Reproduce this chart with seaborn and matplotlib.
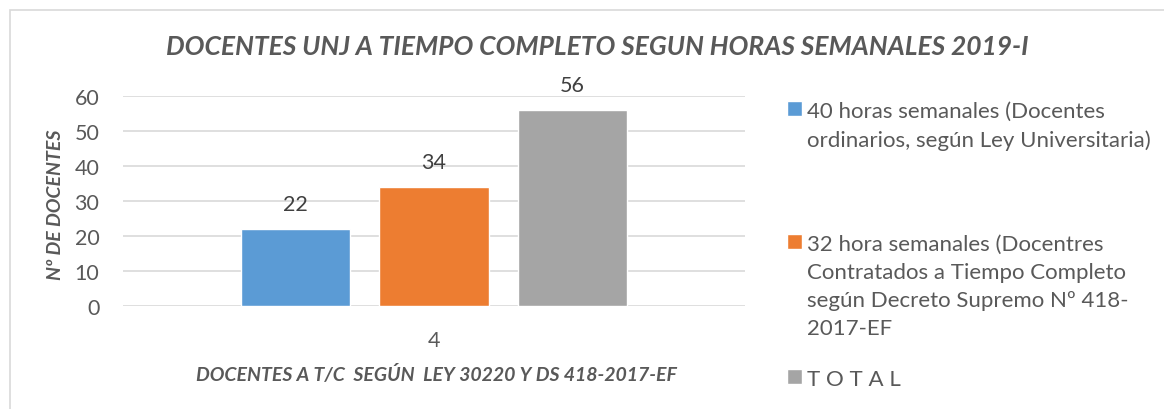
import matplotlib
matplotlib.use("Agg")
import matplotlib.pyplot as plt
import seaborn as sns
import pandas as pd
from matplotlib.patches import Rectangle

categories = ["4", "4", "4"]
series = [
    "40 horas semanales (Docentes\nordinarios, según Ley Universitaria)",
    "32 hora semanales (Docentres\nContratados a Tiempo Completo\nsegún Decreto Supremo Nº 418-\n2017-EF",
    "T O T A L",
]
values = [22, 34, 56]
colors = ["#5B9BD5", "#ED7D31", "#A5A5A5"]
yticks = [0, 10, 20, 30, 40, 50, 60]

title = "DOCENTES UNJ A TIEMPO COMPLETO SEGUN HORAS SEMANALES 2019-I"
ylabel = "Nº DE DOCENTES"
xlabel = "DOCENTES A T/C  SEGÚN  LEY 30220 Y DS 418-2017-EF"

sns.set_theme(style="white")
plt.rcParams["font.family"] = ["Lato", "DejaVu Sans"]
TXT = "#595959"

W, H = 1164, 410
fig = plt.figure(figsize=(W / 100, H / 100), dpi=100)
fig.patch.set_facecolor("white")

# chart frame
fig.add_artist(Rectangle((10 / W, -0.05), 1.2, 1 - 11 / H + 0.05, transform=fig.transFigure,
                         fill=False, edgecolor="#D9D9D9", linewidth=1.2))

left, right = 123 / W, 745 / W
bottom, top = 1 - 307 / H, 1 - 97 / H
ax = fig.add_axes([left, bottom, right - left, top - bottom])

df = pd.DataFrame({"cat": categories, "serie": series, "valor": values})
sns.barplot(data=df, x="cat", y="valor", hue="serie", hue_order=series,
            palette=colors, width=0.668, gap=0.206, ax=ax, legend=False,
            saturation=1)

ax.set_ylim(0, 60)
ax.set_yticks(yticks)
ax.set_xlim(-0.5, 0.5)
ax.yaxis.grid(True, color="#D9D9D9", linewidth=1.2)
ax.set_axisbelow(True)
for s in ax.spines.values():
    s.set_visible(False)
ax.tick_params(axis="both", length=0, labelsize=15.5, labelcolor=TXT)
ax.tick_params(axis="y", pad=17)
ax.tick_params(axis="x", pad=17)
ax.set_xlabel("")
ax.set_ylabel("")

for cont in ax.containers:
    ax.bar_label(cont, fontsize=15.5, color="#404040", padding=11)

fig.text(597 / W, 1 - 47 / H, title, ha="center", va="center", fontsize=19,
         fontweight="bold", fontstyle="italic", color=TXT)
fig.text(56 / W, 1 - 205 / H, ylabel, ha="center", va="center", rotation=90,
         fontsize=14, fontweight="bold", fontstyle="italic", color=TXT)
fig.text(436 / W, 1 - 375 / H, xlabel, ha="center", va="center", fontsize=14,
         fontweight="bold", fontstyle="italic", color=TXT)

# legend, three entries placed as in the reference
bars = [cont.patches[0] for cont in ax.containers]
tops = [102, 235, 370]
for bar, lab, ytop in zip(bars, series, tops):
    leg = fig.legend([bar], [lab], loc="upper left",
                     bbox_to_anchor=(787 / W, 1 - ytop / H), frameon=False,
                     fontsize=16, handlelength=0.68, handleheight=0.68,
                     handletextpad=0.2, borderpad=0, borderaxespad=0)
    for t in leg.get_texts():
        t.set_color(TXT)
        t.set_linespacing(1.5)
    for vp in leg._legend_handle_box.get_children():
        for hp in vp.get_children():
            hp.align = "top"

fig.savefig("out.png", dpi=100, facecolor="white")
